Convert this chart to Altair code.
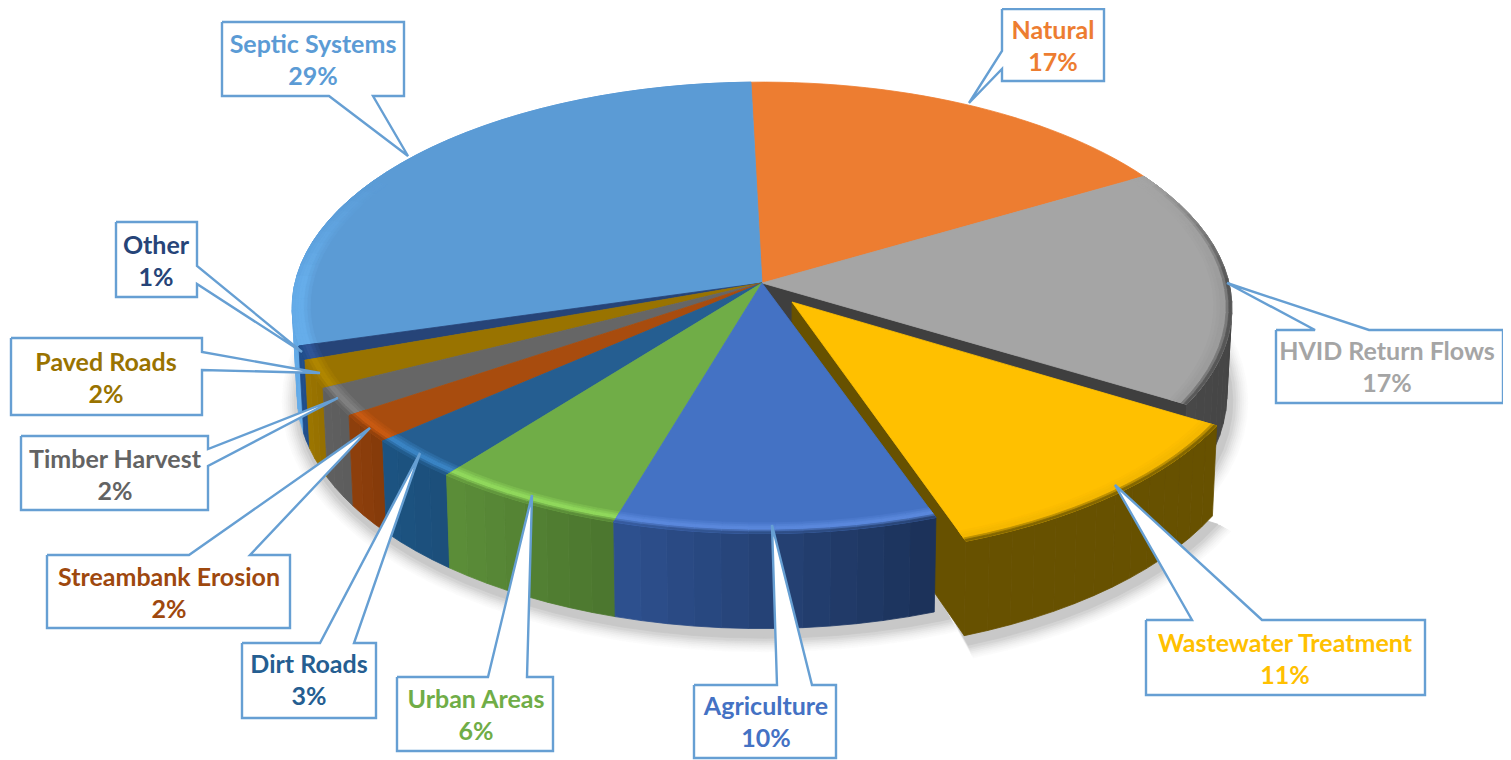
import math
import altair as alt
import pandas as pd

# ---- chart values -----------------------------------------------------
categories = ["Natural", "HVID Return Flows", "Wastewater Treatment", "Agriculture", "Urban Areas",
              "Dirt Roads", "Streambank Erosion", "Timber Harvest", "Paved Roads", "Other", "Septic Systems"]
shares = [17, 17, 11, 10, 6, 3, 2, 2, 2, 1, 29]
base_colors = ["#ED7D31", "#A5A5A5", "#FFC000", "#4472C4", "#70AD47",
               "#255E91", "#A84C0E", "#666666", "#997300", "#264478", "#5B9BD5"]
rim_colors = ["#ED7D31", "#9C9C9C", "#F5B800", "#5A88DC", "#90D85C",
              "#3A84C4", "#C85A12", "#808080", "#B08600", "#2F5597", "#66ADEA"]
wall_near = ["#B85F20", "#484848", "#675100", "#2E5190", "#5C8F39",
             "#1C5482", "#8F400C", "#606060", "#9C7600", "#1F4E8C", "#4A8CCB"]
wall_far = ["#B85F20", "#3F3F3F", "#675100", "#1B3158", "#4B752E",
            "#1C4E7A", "#843A0A", "#5C5C5C", "#946F00", "#1F4E8C", "#66ADEA"]
text_colors = ["#ED7D31", "#A5A5A5", "#FFC000", "#4472C4", "#70AD47",
               "#255E91", "#9E480E", "#636363", "#997300", "#264478", "#5B9BD5"]

# ---- callout layout: box, side/positions of tail base, tail tip, text centre
callouts = {
    "Septic Systems":       ((222, 22, 404, 96),   "b", 329, 373, (408, 156), 313, 45),
    "Natural":              ((1002, 9, 1104, 81),  "l", 51, 69,   (969, 103), 1053, 31),
    "HVID Return Flows":    ((1276, 330, 1503, 403), "t", 1315, 1369, (1227, 283), 1387, 352),
    "Wastewater Treatment": ((1146, 620, 1425, 695), "t", 1192, 1262, (1115, 485), 1285, 644),
    "Agriculture":          ((694, 685, 836, 758), "t", 777, 812, (772, 525), 766, 707),
    "Urban Areas":          ((397, 677, 553, 751), "t", 488, 527, (532, 495), 476, 700),
    "Dirt Roads":           ((242, 643, 376, 718), "t", 320, 354, (420, 453), 309, 665),
    "Streambank Erosion":   ((47, 555, 290, 628),  "t", 189, 250, (370, 428), 169, 578),
    "Timber Harvest":       ((21, 436, 208, 510),  "r", 449, 466, (338, 398), 115, 460),
    "Paved Roads":          ((11, 338, 202, 415),  "r", 352, 370, (320, 373), 106, 363),
    "Other":                ((116, 222, 197, 297), "r", 266, 284, (302, 352), 156, 246),
}
LINE_GAP = 32

# ---- pie geometry
CX, CY, RX, RY, P = 762.0, 283.0, 467.0, 223.0, 0.11
START = -1.5
EXPLODED = "Wastewater Treatment"
SHIFT = (30.0, 19.0)
SCALE_Y = 1.02


def top(theta, r=1.0, exploded=False):
    a = math.radians(theta)
    u, v = r * math.sin(a), r * math.cos(a)
    x = CX + RX * u / (1 + P * v)
    y = CY - RY * v / (1 + P * v)
    if exploded:
        x, y = x + SHIFT[0], CY + (y - CY) * SCALE_Y + SHIFT[1]
    return x, y


def bottom(theta, r=1.0, exploded=False):
    a = math.radians(theta)
    x, y = top(theta, r, exploded)
    d = 85 - 10 * math.cos(a) * r
    x += (-5 * math.sin(a) * r)
    return x, y + d


def mix(c1, c2, t):
    a = [int(c1[i:i + 2], 16) for i in (1, 3, 5)]
    b = [int(c2[i:i + 2], 16) for i in (1, 3, 5)]
    return "#%02x%02x%02x" % tuple(round(p + (q - p) * t) for p, q in zip(a, b))


rows = []
pid = 0


def poly(points, color):
    global pid
    pid += 1
    pts = list(points) + [points[0]]
    for i, (x, y) in enumerate(pts):
        rows.append({"x": x, "y": y, "pid": pid, "i": i, "c": color})


def frange(a, b, step):
    n = max(1, int(math.ceil(abs(b - a) / step)))
    return [a + (b - a) * k / n for k in range(n + 1)]


# angles from the shares
angles = {}
cur = START
for name, s in zip(categories, shares):
    angles[name] = (cur, cur + s * 3.6)
    cur += s * 3.6
idx = {n: i for i, n in enumerate(categories)}


def shadow(theta0, theta1, exploded, apex):
    levels = [(18, "#fbfbfb"), (16, "#f7f7f7"), (14, "#f2f2f2"), (12, "#ececec"),
              (10, "#e5e5e5"), (8, "#dddddd"), (6, "#d4d4d4"), (3, "#c8c8c8")]
    for grow, col in levels:
        pts = []
        if apex:
            pts.append((CX + 40 + SHIFT[0], CY + 120))
        for t in frange(theta0, theta1, 4):
            x, y = bottom(t, 1.0, exploded)
            a = math.radians(t)
            pts.append((x + 3 + grow * math.sin(a), y + 7 - grow * 0.9 * math.cos(a)))
        poly(pts, col)


def wall(name):
    k = idx[name]
    t0, t1 = angles[name]
    ex = name == EXPLODED
    ts = frange(t0, t1, 3)
    for j in range(len(ts) - 1):
        a, b = ts[j], ts[j + 1]
        col = mix(wall_far[k], wall_near[k], (j + 0.5) / (len(ts) - 1))
        poly([top(a, 1, ex), top(b, 1, ex), bottom(b, 1, ex), bottom(a, 1, ex)], col)


def cut_wall(name, theta):
    k = idx[name]
    ex = name == EXPLODED
    poly([top(theta, 0, ex), top(theta, 1, ex), bottom(theta, 1, ex), bottom(theta, 0, ex)],
         wall_far[k])


def surface(name):
    k = idx[name]
    t0, t1 = angles[name]
    ex = name == EXPLODED
    pts = [top(0, 0, ex)] + [top(t, 1, ex) for t in frange(t0, t1, 2)]
    poly(pts, base_colors[k])
    # bevel along the rim
    radii = [0.962, 0.969, 0.976, 0.982, 0.988, 0.994, 1.0]
    ts = frange(t0, t1, 3)
    for j in range(len(ts) - 1):
        a, b = ts[j], ts[j + 1]
        fac = max(0.0, min(1.0, (0.5 - math.cos(math.radians((a + b) / 2))) / 0.5))
        if fac <= 0:
            continue
        wc = mix(wall_far[k], wall_near[k], (j + 0.5) / (len(ts) - 1))
        for q in range(len(radii) - 1):
            if q < 3:
                col = mix(base_colors[k], rim_colors[k], (q + 1) / 3)
            elif q < 4:
                col = rim_colors[k]
            else:
                col = mix(rim_colors[k], wc, (q - 3) / 2.5)
            col = mix(base_colors[k], col, fac)
            poly([top(a, radii[q], ex), top(b, radii[q], ex),
                  top(b, radii[q + 1], ex), top(a, radii[q + 1], ex)], col)


# painter's order: shadow, back pieces, exploded slice, front pieces
shadow(0, 360, False, False)
a0, a1 = angles[EXPLODED]
shadow(a0, a1, True, True)

cut_wall("HVID Return Flows", angles["HVID Return Flows"][1])
for n in ["Septic Systems", "HVID Return Flows"]:
    wall(n)
for n in ["Natural", "HVID Return Flows", "Septic Systems"]:
    surface(n)

cut_wall(EXPLODED, a1)
wall(EXPLODED)
surface(EXPLODED)

for n in ["Other", "Paved Roads", "Timber Harvest", "Streambank Erosion", "Dirt Roads", "Urban Areas", "Agriculture"]:
    wall(n)
    surface(n)

pie = pd.DataFrame(rows)

# callout outlines
box_rows = []
text_rows = []
for b, (name, spec) in enumerate(callouts.items()):
    (x0, y0, x1, y1), side, p, q, tip, tx, ty = spec
    if side == "t":
        path = [(x0, y0), (p, y0), tip, (q, y0), (x1, y0), (x1, y1), (x0, y1)]
    elif side == "b":
        path = [(x0, y0), (x1, y0), (x1, y1), (q, y1), tip, (p, y1), (x0, y1)]
    elif side == "l":
        path = [(x0, y0), (x1, y0), (x1, y1), (x0, y1), (x0, q), tip, (x0, p)]
    else:
        path = [(x0, y0), (x1, y0), (x1, p), tip, (x1, q), (x1, y1), (x0, y1)]
    path.append(path[0])
    for i, (x, y) in enumerate(path):
        box_rows.append({"x": x, "y": y, "pid": b, "i": i})
    col = text_colors[idx[name]]
    text_rows.append({"x": tx, "y": ty, "t": name, "c": col})
    text_rows.append({"x": tx, "y": ty + LINE_GAP, "t": f"{shares[idx[name]]}%", "c": col})
boxes = pd.DataFrame(box_rows)
texts = pd.DataFrame(text_rows)

W, H = 1495, 752
xs = alt.Scale(domain=[8, 8 + W], range=[0, W])
ys = alt.Scale(domain=[8, 8 + H], range=[0, H])
X = alt.X("x:Q", scale=xs, axis=None)
Y = alt.Y("y:Q", scale=ys, axis=None)

pie_layer = alt.Chart(pie).mark_line(strokeWidth=0.8, strokeJoin="round", interpolate="linear", clip=False).encode(
    x=X, y=Y,
    detail="pid:N",
    order=alt.Order("i:Q"),
    fill=alt.Fill("c:N", scale=None),
    stroke=alt.Stroke("c:N", scale=None),
)
box_layer = alt.Chart(boxes).mark_line(fill="white", stroke="#669FD3", strokeWidth=2.4, strokeJoin="miter").encode(
    x=X, y=Y, detail="pid:N", order=alt.Order("i:Q"),
)
text_layer = alt.Chart(texts).mark_text(font="Lato", fontWeight="bold", fontSize=25, align="center", baseline="middle").encode(
    x=X, y=Y, text="t:N", color=alt.Color("c:N", scale=None),
)

chart = alt.layer(pie_layer, box_layer, text_layer).properties(
    width=W, height=H, padding=0, autosize=alt.AutoSizeParams(type="none"), background="white",
).configure_view(stroke=None)

chart.save("out.html", embed_options={"renderer": "svg", "actions": False})
